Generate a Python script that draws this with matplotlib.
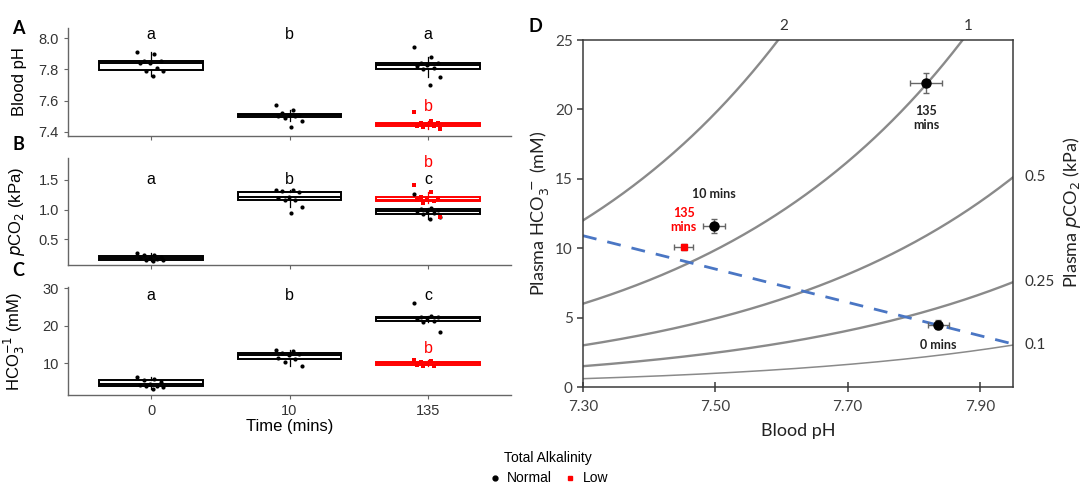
import numpy as np
import matplotlib.pyplot as plt
from matplotlib.lines import Line2D

W, H = 1085, 486

# ---- panel A-C data: blood values per time point, normal and low alkalinity ----
times = ['0', '10', '135']

ph_normal = [
    [7.91, 7.90, 7.85, 7.85, 7.84, 7.84, 7.81, 7.79, 7.79, 7.76],
    [7.57, 7.54, 7.52, 7.51, 7.51, 7.50, 7.50, 7.49, 7.47, 7.43],
    [7.94, 7.88, 7.84, 7.84, 7.83, 7.82, 7.81, 7.80, 7.75, 7.70],
]
ph_low_135 = [7.53, 7.47, 7.46, 7.46, 7.45, 7.44, 7.44, 7.43, 7.42]

pco2_normal = [
    [0.28, 0.24, 0.23, 0.21, 0.19, 0.18, 0.17, 0.16, 0.15, 0.14],
    [1.34, 1.33, 1.31, 1.29, 1.22, 1.20, 1.17, 1.16, 1.04, 0.94],
    [1.26, 1.03, 1.02, 1.00, 0.98, 0.97, 0.95, 0.93, 0.87, 0.84],
]
pco2_low_135 = [1.41, 1.30, 1.21, 1.19, 1.17, 1.16, 1.14, 1.12, 0.88]

hco3_normal = [
    [6.2, 5.8, 5.5, 5.0, 4.5, 4.1, 4.0, 3.8, 3.5, 3.0],
    [13.5, 13.2, 12.8, 12.5, 12.2, 11.4, 11.0, 10.3, 9.3],
    [26.0, 22.6, 22.4, 22.3, 21.9, 21.8, 21.2, 21.0, 18.3],
]
hco3_low_135 = [10.9, 10.6, 10.2, 10.0, 9.8, 9.5, 9.3, 9.2]

# significance letters: (x index, y, text, colour)
letters_A = [(1, 8.02, 'a', 'k'), (2, 8.02, 'b', 'k'), (3, 8.02, 'a', 'k'), (3, 7.565, 'b', 'red')]
letters_B = [(1, 1.50, 'a', 'k'), (2, 1.50, 'b', 'k'), (3, 1.50, 'c', 'k'), (3, 1.79, 'b', 'red')]
letters_C = [(1, 28.1, 'a', 'k'), (2, 28.1, 'b', 'k'), (3, 28.1, 'c', 'k'), (3, 14.0, 'b', 'red')]

# ---- panel D data: Davenport diagram ----
d_ph = [7.837, 7.498, 7.819]
d_ph_err = [0.016, 0.016, 0.024]
d_hco3 = [4.5, 11.6, 21.9]
d_hco3_err = [0.3, 0.5, 0.7]
d_labels = ['0 mins', '10 mins', '135\nmins']
d_label_y = [3.0, 13.9, 19.4]

low_ph, low_ph_err = 7.452, 0.014
low_hco3, low_hco3_err = 10.1, 0.2

isopleth_pco2 = [0.1, 0.25, 0.5, 1, 2]
buffer_ph = [7.30, 7.95]
buffer_hco3 = [10.9, 3.1]

CO2_SOLUBILITY = 0.45  # mM / kPa


def pk_app(ph):
    return 6.175 - 0.08 * (ph - 7.30)


def hco3_from(pco2, ph):
    return CO2_SOLUBILITY * pco2 * 10 ** (ph - pk_app(ph))


plt.rcParams['font.family'] = ['Liberation Sans', 'DejaVu Sans']
fig = plt.figure(figsize=(W / 100, H / 100), dpi=100)

AX_GREY = '#666666'


def style_left(ax):
    for s in ['top', 'right']:
        ax.spines[s].set_visible(False)
    for s in ['left', 'bottom']:
        ax.spines[s].set_color(AX_GREY)
        ax.spines[s].set_linewidth(1.0)
    ax.tick_params(colors=AX_GREY, labelcolor='#333333', labelsize=10.5, length=3)
    ax.set_xlim(0.4, 3.6)
    ax.set_xticks([1, 2, 3])


def jitter(n):
    return ((np.arange(n) * 0.618034) % 1 - 0.5) * 0.2


def group(ax, vals, pos, color, marker):
    ax.boxplot(vals, positions=[pos], widths=0.75, whis=1.5, showcaps=False,
               showfliers=False, patch_artist=True, manage_ticks=False,
               boxprops=dict(facecolor='white', edgecolor=color, linewidth=1.4),
               medianprops=dict(color=color, linewidth=1.4),
               whiskerprops=dict(color=color, linewidth=0.9))
    ax.scatter(pos + jitter(len(vals)), vals, s=9 if marker == 'o' else 12,
               color=color, marker=marker, zorder=3, linewidths=0)


def panel(rect, normal, low, letters, ylim, yticks, ylabel):
    ax = fig.add_axes(rect)
    style_left(ax)
    for i, vals in enumerate(normal):
        group(ax, vals, i + 1, 'black', 'o')
    group(ax, low, 3, 'red', 's')
    for x, y, t, c in letters:
        ax.text(x, y, t, ha='center', va='center', fontsize=11.5, color=c)
    ax.set_ylim(*ylim)
    ax.set_yticks(yticks)
    ax.set_ylabel(ylabel, fontsize=12)
    ax.yaxis.set_label_coords(-0.093, 0.5)
    return ax


left = 68 / W
width = 443 / W
axA = panel([left, 1 - 136 / H, width, 108 / H], ph_normal, ph_low_135, letters_A,
            (7.374, 8.064), [7.4, 7.6, 7.8, 8.0], 'Blood pH')
axA.yaxis.set_major_formatter(plt.FormatStrFormatter('%.1f'))
axA.set_xticklabels([])
axB = panel([left, 1 - 265 / H, width, 107 / H], pco2_normal, pco2_low_135, letters_B,
            (0.07, 1.87), [0.5, 1.0, 1.5], '$p$CO$_2$ (kPa)')
axB.set_xticklabels([])
axC = panel([left, 1 - 395 / H, width, 108 / H], hco3_normal, hco3_low_135, letters_C,
            (1.47, 30.3), [10, 20, 30], 'HCO$_3^{-1}$ (mM)')
axC.set_xticklabels(times)
axC.set_xlabel('Time (mins)', fontsize=12, labelpad=1)

for lab, y in [('A', 28), ('B', 144), ('C', 271)]:
    fig.text(18 / W, 1 - y / H, lab, fontsize=13, fontweight='bold',
             ha='center', va='center', family=['Lato', 'DejaVu Sans'])

# ---- Davenport panel ----
dfont = ['Lato', 'DejaVu Sans']
axD = fig.add_axes([583 / W, 1 - 387 / H, 430 / W, 347 / H])
for s in axD.spines.values():
    s.set_color('#3a3a3a')
    s.set_linewidth(1.1)
axD.set_xlim(7.30, 7.95)
axD.set_ylim(0, 25)
axD.set_xticks([7.30, 7.50, 7.70, 7.90])
axD.set_xticklabels(['7.30', '7.50', '7.70', '7.90'], family=dfont)
axD.set_yticks([0, 5, 10, 15, 20, 25])
axD.set_yticklabels(['0', '5', '10', '15', '20', '25'], family=dfont)
axD.tick_params(direction='inout', length=7, width=1.1, color='#3a3a3a',
                labelsize=11, labelcolor='#404040')
axD.tick_params(axis='x', pad=6)
axD.tick_params(axis='y', direction='out', length=4)

ph_grid = np.linspace(7.30, 7.95, 300)
for p in isopleth_pco2:
    axD.plot(ph_grid, hco3_from(p, ph_grid), color='#8a8a8a',
             lw=1.1 if p == 0.1 else 1.7, zorder=1)
    end = hco3_from(p, 7.95)
    if end < 25:
        axD.annotate(str(p), (7.95, end), xytext=(8, 0), textcoords='offset points',
                     va='center', ha='left', fontsize=11, color='#333333',
                     family=dfont, annotation_clip=False)
    else:
        top_ph = 7.30 + (np.log10(25 / hco3_from(p, 7.30))) / 1.08
        axD.annotate(str(p), (top_ph, 25), xytext=(4, 10), textcoords='offset points',
                     va='center', ha='center', fontsize=11, color='#333333',
                     family=dfont, annotation_clip=False)

axD.plot(buffer_ph, buffer_hco3, color='#4a76c4', lw=2, dashes=(5, 4), zorder=2)

axD.errorbar(d_ph, d_hco3, xerr=d_ph_err, yerr=d_hco3_err, fmt='o', color='black',
             ms=6.5, ecolor='#666666', elinewidth=1, capsize=2.5, zorder=4)
axD.errorbar([low_ph], [low_hco3], xerr=[low_ph_err], yerr=[low_hco3_err], fmt='s',
             color='red', ms=5, ecolor='#666666', elinewidth=1, capsize=2.5, zorder=4)

for x, y, t in zip(d_ph, d_label_y, d_labels):
    axD.text(x, y, t, ha='center', va='center', fontsize=9, fontweight='bold',
             family=dfont, color='#222222', linespacing=1.2)
axD.text(7.452, 12.0, '135\nmins', ha='center', va='center', fontsize=9,
         fontweight='bold', family=dfont, color='red', linespacing=1.2)

axD.set_xlabel('Blood pH', fontsize=13, family=dfont, color='#222222', labelpad=6)
axD.set_ylabel('Plasma HCO$_3^{\\,-}$ (mM)', fontsize=13, family=dfont, color='#222222')
axD.yaxis.set_label_coords(-0.075, 0.5)
fig.text(1072 / W, 1 - 212 / H, 'Plasma $p$CO$_2$ (kPa)', rotation=90, fontsize=13,
         family=dfont, ha='center', va='center', color='#222222')
fig.text(535 / W, 1 - 27 / H, 'D', fontsize=13, fontweight='bold', family=dfont,
         ha='center', va='center')

handles = [Line2D([], [], ls='', marker='o', color='black', ms=3.5),
           Line2D([], [], ls='', marker='s', color='red', ms=3.5)]
fig.legend(handles, ['Normal', 'Low'], title='Total Alkalinity', ncol=2,
           loc='center', bbox_to_anchor=(548 / W, 1 - 468 / H), frameon=False,
           fontsize=10, title_fontsize=10, handletextpad=0.4, columnspacing=0.8,
           handlelength=1.0, borderpad=0.1)

fig.savefig('out.png', dpi=100)
